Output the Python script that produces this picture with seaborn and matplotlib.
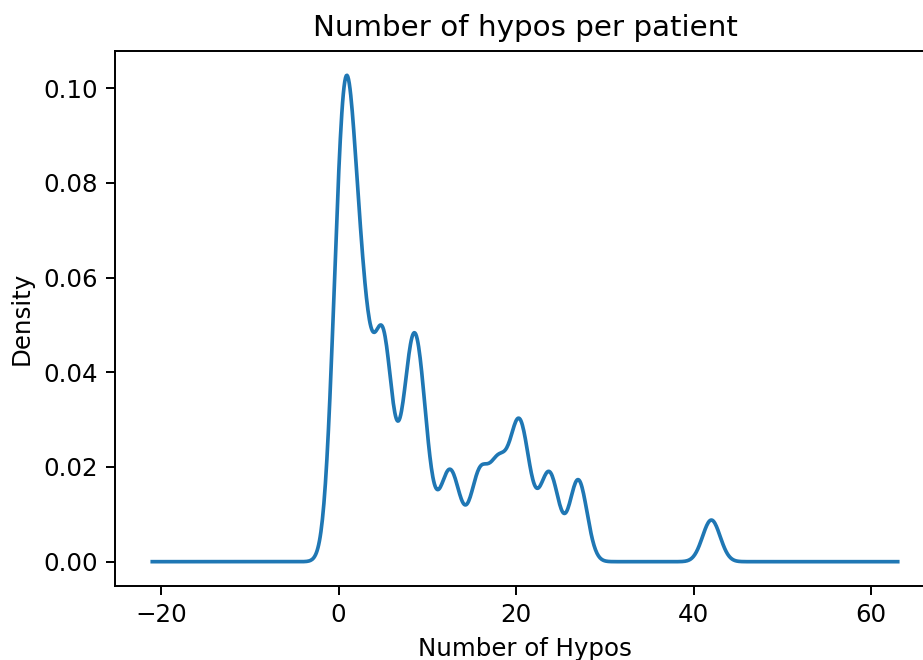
import matplotlib
matplotlib.use("Agg")#Use non-GUI backend for saving images
import matplotlib.pyplot as plt
import seaborn as sns
import numpy as np

#Hypo counts per patient and how often each count occurs (relative weights)
hypo_counts = [0, 1, 2, 3, 4, 5, 6, 7, 8, 9, 10, 12, 13, 15, 16,
               18, 20, 21, 23, 24, 27, 42]
n_patients = [109, 144, 63, 70, 8, 99, 13, 11, 62, 64, 18, 25, 29, 9, 39,
              45, 48, 34, 17, 35, 43, 22]

#Kernel width (in hypos)
BANDWIDTH = 1.03

#seaborn scales a scalar bw_method by the plain std of the values
bw_factor = BANDWIDTH / np.std(hypo_counts, ddof=1)

DPI = 176
fig = plt.figure(figsize=(923 / DPI, 660 / DPI), dpi=DPI)
ax = fig.add_axes([115 / 923, 74 / 660, 820 / 923, 535 / 660])

sns.kdeplot(
    x=hypo_counts,
    weights=n_patients,
    bw_method=bw_factor,
    cut=21 / BANDWIDTH,  #curve runs from -21 to 63 like pandas' kde
    gridsize=1000,
    color="#1f77b4",
    linewidth=1.5,
    ax=ax,
)

#seaborn pins the y axis at 0, plain matplotlib leaves a margin below
for line in ax.lines:
    line.sticky_edges.y[:] = []
ax.relim()
ax.autoscale_view()

ax.set_title("Number of hypos per patient")
ax.set_xlabel("Number of Hypos")
ax.set_ylabel("Density")

fig.savefig("out.png", dpi=DPI)
plt.close()
